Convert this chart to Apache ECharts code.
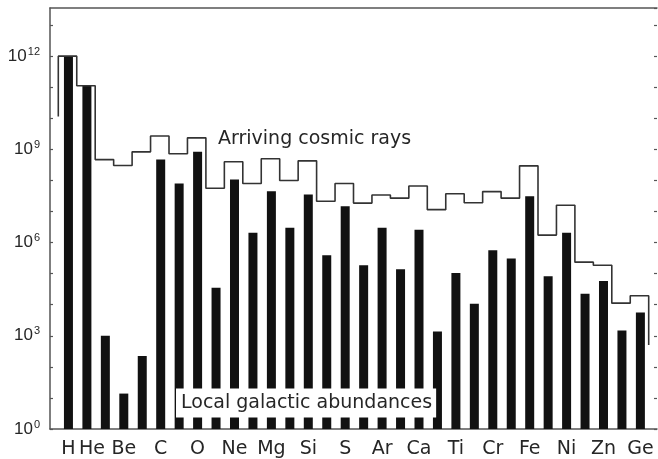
<!DOCTYPE html>
<html>
<head>
<meta charset="utf-8">
<script src="https://cdn.jsdelivr.net/npm/echarts@6/dist/echarts.min.js"></script>
<style>
html,body{margin:0;padding:0;background:#fff;}
#chart{width:658px;height:459px;}
</style>
</head>
<body>
<div id="chart"></div>
<script>
// Elements Z = 1..32
const elements = ['H','He','Li','Be','B','C','N','O','F','Ne','Na','Mg','Al','Si','P','S',
  'Cl','Ar','K','Ca','Sc','Ti','V','Cr','Mn','Fe','Co','Ni','Cu','Zn','Ga','Ge'];
// Elements whose symbol is printed under the axis
const labeledElements = ['H','He','Be','C','O','Ne','Mg','Si','S','Ar','Ca','Ti','Cr','Fe','Ni','Zn','Ge'];
// log10 of local galactic abundances (bars)
const localLog10 = [12.0, 11.05, 3.0, 1.14, 2.35, 8.67, 7.9, 8.92, 4.55, 8.03, 6.32, 7.65, 6.48, 7.55, 5.59, 7.17,
  5.27, 6.48, 5.14, 6.41, 3.14, 5.02, 4.03, 5.75, 5.49, 7.49, 4.92, 6.32, 4.35, 4.76, 3.17, 3.75];
// log10 of arriving cosmic rays (step line)
const cosmicLog10 = [12.0, 11.05, 8.67, 8.48, 8.92, 9.43, 8.86, 9.37, 7.75, 8.6, 7.9, 8.7, 8.0, 8.63, 7.33, 7.9,
  7.27, 7.53, 7.43, 7.82, 7.06, 7.57, 7.28, 7.64, 7.43, 8.47, 6.24, 7.2, 5.37, 5.27, 4.05, 4.29];
const cosmicStartLog10 = 10.06;
const cosmicEndLog10 = 2.7;
// y tick labels (powers of ten shown)
const yLabelExponents = [0, 3, 6, 9, 12];

const Z = elements.map((e, i) => i + 1);
const barData = Z.map((z, i) => [z, localLog10[i]]);

// step line: each element spans one bin on the Z axis
const binShift = -0.05;
const stepData = [[Z[0] - 0.5 + binShift, cosmicStartLog10]];
Z.forEach((z, i) => {
  stepData.push([z - 0.5 + binShift, cosmicLog10[i]]);
  stepData.push([z + 0.5 + binShift, cosmicLog10[i]]);
});
stepData.push([Z[Z.length - 1] + 0.5 + binShift, cosmicEndLog10]);

const labelMap = {};
elements.forEach((e, i) => { if (labeledElements.includes(e)) labelMap[i + 1] = e; });

const chart = echarts.init(document.getElementById('chart'), null, {renderer: 'canvas'});
const axisColor = '#555';
const textColor = '#262626';
const option = {
  animation: false,
  backgroundColor: '#fff',
  grid: {left: 50, right: 1, top: 8, bottom: 24, containLabel: false},
  xAxis: [{
    type: 'value', min: 0, max: 32.9, interval: 1, position: 'bottom',
    axisLine: {show: true, onZero: false, lineStyle: {color: axisColor, width: 1.5}},
    axisTick: {show: false},
    splitLine: {show: false},
    axisLabel: {
      show: true, margin: 11, color: textColor, fontFamily: 'DejaVu Sans', fontSize: 19,
      showMinLabel: true, showMaxLabel: false,
      formatter: v => {
        const s = labelMap[v];
        if (!s) return '';
        return s === 'He' ? '{he|He}' : s;
      },
      rich: {he: {fontFamily: 'DejaVu Sans', fontSize: 19, color: textColor, padding: [0, 0, 0, 10]}}
    }
  }, {
    type: 'value', min: 0, max: 32.9, position: 'top',
    axisLine: {show: true, onZero: false, lineStyle: {color: axisColor, width: 1.5}},
    axisTick: {show: false}, axisLabel: {show: false}, splitLine: {show: false}
  }],
  yAxis: [{
    type: 'value', min: 0, max: 13.55, interval: 1, position: 'left',
    axisLine: {show: true, onZero: false, lineStyle: {color: axisColor, width: 1.5}},
    axisTick: {show: true, inside: true, length: 3, lineStyle: {color: axisColor, width: 1.2}},
    splitLine: {show: false},
    axisLabel: {
      margin: 10, color: textColor, fontFamily: 'Liberation Sans', fontSize: 17, align: 'right',
      showMaxLabel: false,
      formatter: v => yLabelExponents.includes(v) ? '10{sup|' + v + '}' : '',
      rich: {sup: {fontSize: 11, fontFamily: 'Liberation Sans', color: textColor, padding: [0, 0, 9, 1]}}
    }
  }, {
    type: 'value', min: 0, max: 13.55, interval: 1, position: 'right',
    axisLine: {show: false, onZero: false},
    axisTick: {show: true, inside: true, length: 3, lineStyle: {color: axisColor, width: 1.2}},
    axisLabel: {show: false}, splitLine: {show: false}
  }],
  series: [{
    type: 'bar', name: 'Local galactic abundances', xAxisIndex: 0, yAxisIndex: 0,
    data: barData, barWidth: 9,
    itemStyle: {color: '#111'}, z: 2
  }, {
    type: 'line', name: 'Arriving cosmic rays', xAxisIndex: 0, yAxisIndex: 0,
    data: stepData, showSymbol: false, symbol: 'none',
    lineStyle: {color: '#333', width: 1.6}, z: 3
  }],
  graphic: [{
    type: 'text', x: 218, y: 139, z: 10,
    style: {text: 'Arriving cosmic rays', fill: textColor, font: '19px "DejaVu Sans"', verticalAlign: 'middle'}
  }, {
    type: 'text', x: 176, y: 403, z: 10,
    style: {text: 'Local galactic abundances', fill: textColor, font: '19px "DejaVu Sans"',
      verticalAlign: 'middle', backgroundColor: '#fff', padding: [5, 4, 5, 5]}
  }]
};
chart.setOption(option);
</script>
</body>
</html>
